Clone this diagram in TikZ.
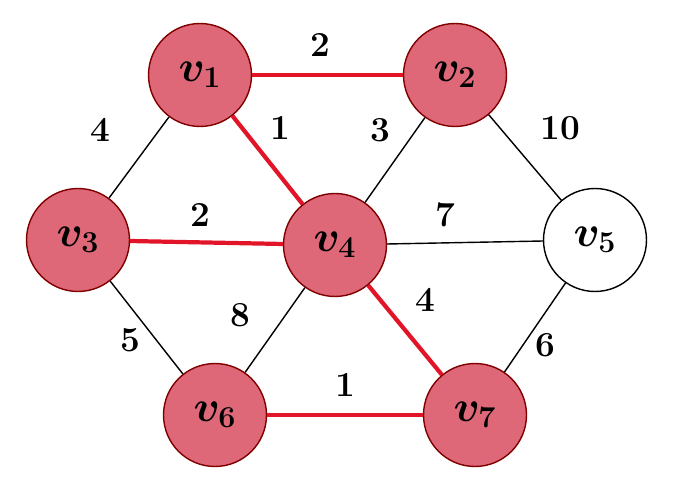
\documentclass[tikz,border=0pt]{standalone}
\begin{document}
\begin{tikzpicture}[x=0.02cm,y=-0.02cm,
  vtx/.style={circle,draw=red!50!black,line width=0.8pt,fill=vred,minimum size=2.06cm,inner sep=0pt,font=\boldmath\fontsize{24}{26}\selectfont},
  wvtx/.style={vtx,fill=white,draw=black},
  e/.style={line width=0.8pt,black},
  re/.style={line width=2.4pt,vline},
  w/.style={font=\bfseries\fontsize{20}{22}\selectfont}]
\definecolor{vred}{RGB}{222,104,120}
\definecolor{vline}{RGB}{225,20,40}
\useasboundingbox (0,0) rectangle (682,482);
\node[vtx] (v1) at (200,75) {$v_1$};
\node[vtx] (v2) at (455,75) {$v_2$};
\node[vtx] (v3) at (78,240) {$v_3$};
\node[vtx] (v4) at (335,245) {$v_4$};
\node[wvtx] (v5) at (595,240) {$v_5$};
\node[vtx] (v6) at (215,415) {$v_6$};
\node[vtx] (v7) at (475,415) {$v_7$};
\draw[e] (v1)--(v3);
\draw[e] (v2)--(v4);
\draw[e] (v2)--(v5);
\draw[e] (v4)--(v5);
\draw[e] (v3)--(v6);
\draw[e] (v4)--(v6);
\draw[e] (v5)--(v7);
\draw[re] (v1)--(v2);
\draw[re] (v1)--(v4);
\draw[re] (v3)--(v4);
\draw[re] (v4)--(v7);
\draw[re] (v6)--(v7);
\node[w] (a) at (320,45) {2};
\node[w] (b) at (100,130) {4};
\node[w] (c) at (280,128) {1};
\node[w] (d) at (380,130) {3};
\node[w] (f) at (560,128) {10};
\node[w] (g) at (200,215) {2};
\node[w] (h) at (445,215) {7};
\node[w] (i) at (240,315) {8};
\node[w] (j) at (425,300) {4};
\node[w] (k) at (130,340) {5};
\node[w] (l) at (545,345) {6};
\node[w] (m) at (345,385) {1};
\end{tikzpicture}
\end{document}
